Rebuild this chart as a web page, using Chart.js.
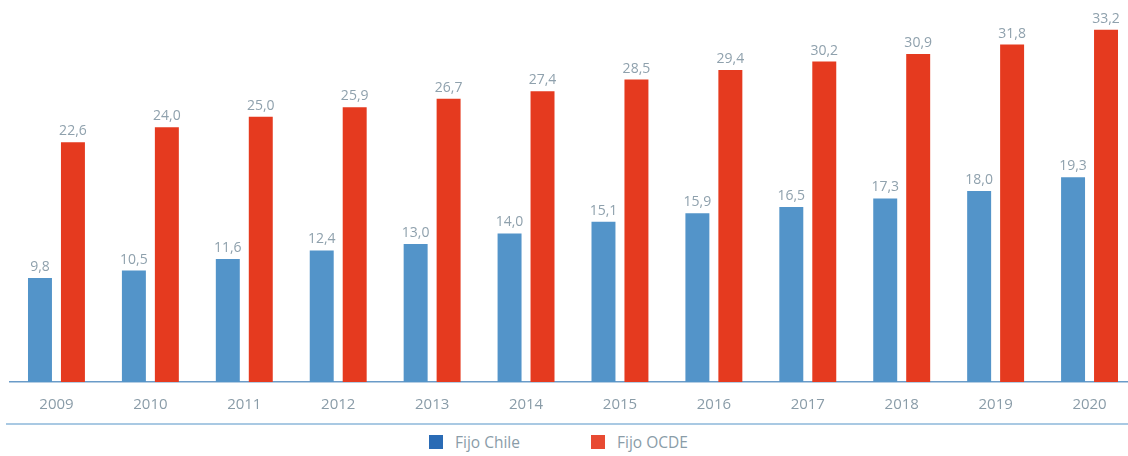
<!DOCTYPE html>
<html>
<head>
<meta charset="utf-8">
<script src="https://cdn.jsdelivr.net/npm/chart.js@4/dist/chart.umd.min.js"></script>
<style>
  html, body { margin: 0; padding: 0; background: #fff; overflow: hidden; }
  body { width: 1128px; height: 456px; position: relative; font-family: "Open Sans", sans-serif; }
  #wrap { position: absolute; left: 0; top: 0; width: 1140px; height: 428px; }
  #sep { position: absolute; left: 6px; top: 423px; width: 1122px; height: 2px; background: #a9c9e3; }
  .leg { position: absolute; top: 432px; font-size: 15.5px; color: #8a9ca8; line-height: 20px; }
  .leg i { position: absolute; left: 0; top: 3px; width: 14px; height: 14px; }
  .leg span { position: absolute; left: 26px; top: 0; white-space: nowrap; }
</style>
</head>
<body>
<div id="wrap"><canvas id="chart"></canvas></div>
<div id="sep"></div>
<div class="leg" style="left:429px"><i style="background:#2a6bb5"></i><span>Fijo Chile</span></div>
<div class="leg" style="left:591px"><i style="background:#e84a32"></i><span>Fijo OCDE</span></div>
<script>
// Data
const years = ['2009', '2010', '2011', '2012', '2013', '2014', '2015', '2016', '2017', '2018', '2019', '2020'];
const fijoChile = [9.8, 10.5, 11.6, 12.4, 13.0, 14.0, 15.1, 15.9, 16.5, 17.3, 18.0, 19.3];
const fijoOCDE = [22.6, 24.0, 25.0, 25.9, 26.7, 27.4, 28.5, 29.4, 30.2, 30.9, 31.8, 33.2];

// value labels above each bar, comma decimal
const valueLabels = {
    id: 'valueLabels',
    afterDatasetsDraw(chart) {
        const ctx = chart.ctx;
        ctx.save();
        ctx.font = '14px "Open Sans", sans-serif';
        ctx.fillStyle = '#8fa1ad';
        ctx.textAlign = 'center';
        ctx.textBaseline = 'bottom';
        chart.data.datasets.forEach((ds, i) => {
            chart.getDatasetMeta(i).data.forEach((bar, j) => {
                const txt = ds.data[j].toFixed(1).replace('.', ',');
                ctx.fillText(txt, bar.x, bar.y - 4);
            });
        });
        ctx.restore();
    }
};

const ctx = document.getElementById('chart').getContext('2d');
new Chart(ctx, {
    type: 'bar',
    data: {
        labels: years,
        datasets: [
            { label: 'Fijo Chile', data: fijoChile, backgroundColor: '#5394c9' },
            { label: 'Fijo OCDE', data: fijoOCDE, backgroundColor: '#e53a1f' }
        ]
    },
    options: {
        responsive: true,
        maintainAspectRatio: false,
        animation: false,
        devicePixelRatio: 1,
        layout: { padding: { left: 9.5, right: 3.5, top: 0, bottom: 0 } },
        datasets: { bar: { categoryPercentage: 0.702, barPercentage: 0.727 } },
        plugins: {
            legend: { display: false },
            tooltip: { enabled: false }
        },
        scales: {
            x: {
                grid: { display: false, drawTicks: false },
                border: { display: true, color: '#6a9bc8', width: 1.5 },
                ticks: { color: '#8a9ca8', padding: 14, font: { family: '"Open Sans", sans-serif', size: 15 } }
            },
            y: {
                display: false,
                min: 0,
                max: 36
            }
        }
    },
    plugins: [valueLabels]
});
</script>
</body>
</html>
